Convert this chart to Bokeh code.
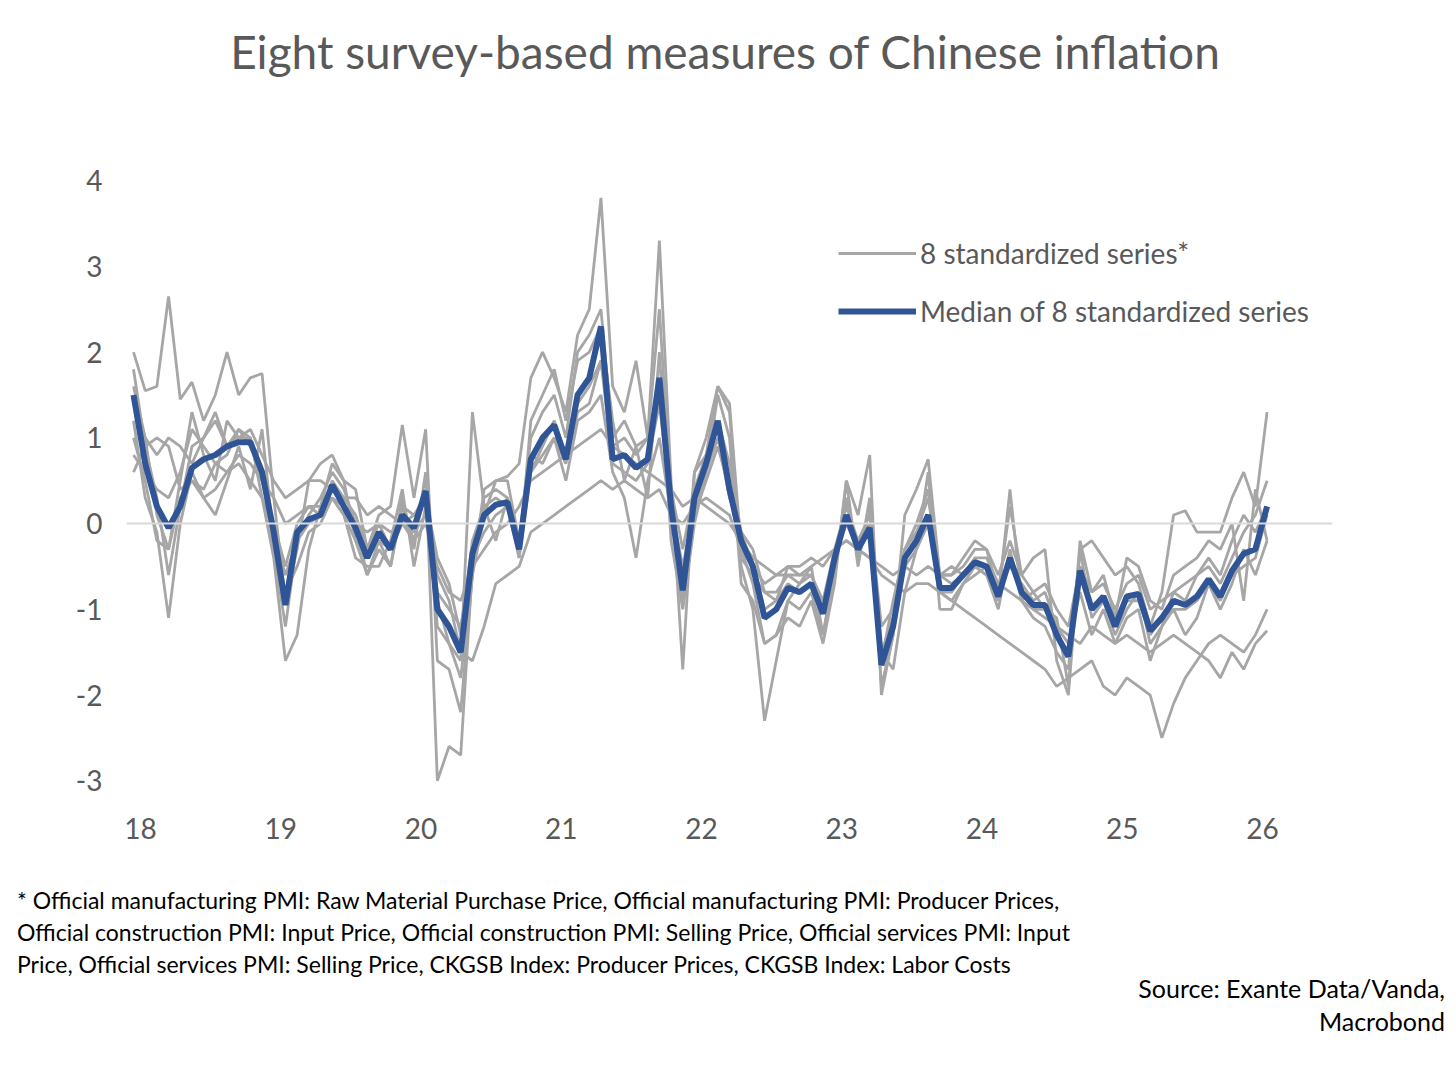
from bokeh.plotting import figure
from bokeh.models import Span, Legend, LegendItem, Div, FixedTicker
from bokeh.layouts import column
from bokeh.embed import file_html
from bokeh.resources import INLINE

median = [1.5,0.7,0.2,-0.05,0.2,0.65,0.75,0.8,0.9,0.95,0.95,0.6,
-0.1,-0.95,-0.1,0.05,0.1,0.45,0.2,-0.05,-0.4,-0.1,-0.3,
0.1,-0.05,0.38,-1.0,-1.2,-1.5,-0.35,0.1,0.22,0.25,-0.3,
0.75,1.0,1.15,0.75,1.5,1.7,2.3,0.75,0.8,0.65,0.75,1.7,
0.2,-0.78,0.3,0.7,1.2,0.4,-0.2,-0.5,-1.1,-1.0,-0.75,-0.8,
-0.7,-1.05,-0.4,0.1,-0.3,-0.05,-1.65,-1.2,-0.4,-0.2,0.1,-0.75,
-0.75,-0.6,-0.45,-0.5,-0.85,-0.4,-0.8,-0.95,-0.95,-1.3,-1.55,-0.55,
-1.0,-0.85,-1.2,-0.85,-0.82,-1.25,-1.1,-0.9,-0.95,-0.85,-0.65,-0.85,
-0.55,-0.35,-0.3,0.2]

s1 = [2.0,1.55,1.6,2.65,1.45,1.65,1.2,1.5,2.0,1.5,1.7,1.75,
0.3,-0.9,-0.3,0.5,0.7,0.8,0.5,0.4,-0.3,0.1,0.2,
1.15,0.3,1.1,-1.6,-1.7,-2.2,-0.6,0.4,0.5,0.55,0.7,
1.7,2.0,1.7,1.3,2.2,2.5,3.8,1.6,1.3,1.9,1.0,3.3,
0.5,-1.7,0.6,0.8,1.6,1.3,-0.5,-1.0,-2.3,-1.6,-0.9,-0.7,
-0.5,-1.3,-0.6,0.5,0.1,0.8,-2.0,-1.3,0.1,0.4,0.75,-0.6,
-0.6,-0.4,-0.2,-0.3,-0.8,0.2,-0.6,-0.4,-0.3,-1.6,-2.0,-0.3,
-0.2,-0.4,-0.6,-0.5,-0.7,-1.2,-0.8,0.1,0.15,-0.1,-0.1,-0.1,
0.3,0.6,0.2,1.3]
s2 = [1.8,0.9,0.3,-0.6,0.2,0.9,1.0,1.3,0.9,1.1,0.9,0.6,
-0.3,-1.2,-0.2,0.1,0.3,0.6,0.4,0.0,-0.6,-0.2,-0.5,
0.2,-0.2,0.4,-1.2,-1.4,-1.8,-0.6,0.1,0.5,0.5,-0.2,
1.0,1.3,1.5,1.0,2.0,2.2,2.5,1.0,1.2,0.9,1.0,2.5,
0.3,-0.9,0.6,1.0,1.6,1.4,-0.3,-0.7,-1.4,-1.3,-0.9,-1.0,
-0.8,-1.3,-0.5,0.3,-0.4,0.2,-1.9,-1.3,-0.3,0.0,0.4,-0.8,
-0.9,-0.7,-0.5,-0.6,-1.0,-0.3,-0.9,-1.1,-1.2,-1.5,-1.7,-0.3,
-1.1,-0.9,-1.3,-1.0,-0.8,-1.4,-1.2,-0.8,-0.9,-0.6,-0.5,-0.7,
-0.4,-0.1,0.1,0.5]
s3 = [0.6,0.9,1.0,0.9,0.4,0.5,0.3,0.4,0.6,0.8,0.7,0.5,
0.3,0.0,0.1,0.2,0.2,0.3,0.2,0.0,-0.1,0.0,-0.1,
0.0,-0.1,0.1,-0.6,-0.9,-1.5,-1.6,-1.2,-0.7,-0.6,-0.5,
-0.1,0.0,0.1,0.2,0.3,0.4,0.5,0.4,0.5,0.4,0.3,0.4,
0.1,0.0,0.2,0.3,0.2,0.1,-0.3,-0.5,-0.7,-0.6,-0.6,-0.6,
-0.5,-0.4,-0.3,-0.2,-0.3,-0.4,-0.6,-0.7,-0.8,-0.7,-0.7,-0.8,
-0.9,-1.0,-1.1,-1.2,-1.3,-1.4,-1.5,-1.6,-1.7,-1.9,-1.8,-1.7,
-1.6,-1.9,-2.0,-1.8,-1.9,-2.0,-2.5,-2.1,-1.8,-1.6,-1.4,-1.3,
-1.4,-1.5,-1.3,-1.0]
s4 = [1.5,1.0,0.8,1.0,0.9,0.7,1.0,1.2,0.9,1.0,1.1,0.8,
0.5,0.3,0.4,0.5,0.5,0.4,0.3,0.3,0.1,0.2,0.1,
0.0,-0.2,0.0,-0.5,-0.8,-0.9,-0.5,-0.3,-0.1,0.0,0.2,
0.5,0.6,0.7,0.8,0.9,1.0,1.1,0.9,0.8,0.7,0.6,0.5,
0.4,0.2,0.3,0.2,0.1,0.0,-0.2,-0.4,-0.5,-0.6,-0.5,-0.5,
-0.4,-0.5,-0.3,-0.2,-0.3,-0.4,-0.5,-0.6,-0.5,-0.6,-0.5,-0.6,
-0.7,-0.6,-0.5,-0.6,-0.7,-0.8,-0.9,-1.0,-1.1,-1.2,-1.3,-1.4,
-1.2,-1.3,-1.4,-1.3,-1.4,-1.5,-1.4,-1.3,-1.4,-1.5,-1.6,-1.8,
-1.5,-1.7,-1.4,-1.25]
s5 = [1.0,0.5,-0.2,-0.3,0.5,1.3,0.8,0.5,1.2,1.0,1.0,0.3,
-0.4,-1.6,-1.3,-0.3,0.2,0.7,0.5,-0.2,-0.6,-0.3,-0.5,
0.3,-0.3,0.6,-3.0,-2.6,-2.7,-0.5,0.3,0.4,0.3,-0.4,
1.2,1.5,1.8,1.2,1.9,2.0,2.3,1.2,0.5,0.9,0.3,2.0,
-0.2,-1.0,0.0,0.6,1.5,1.0,-0.7,-0.9,-1.4,-1.3,-1.1,-1.2,
-0.9,-1.4,-0.7,0.5,-0.5,0.3,-1.5,-1.7,-0.8,-0.3,0.6,-1.0,
-1.0,-0.7,-0.6,-0.5,-0.9,0.4,-0.9,-0.8,-1.0,-1.1,-1.9,-0.2,
-0.8,-0.6,-1.1,-0.4,-0.5,-0.9,-1.0,-0.6,-0.5,-0.4,-0.2,-0.3,
0.0,-0.9,0.4,-0.2]
s6 = [1.2,0.3,-0.1,-1.1,0.0,0.6,0.3,0.1,0.5,0.9,0.4,1.1,
-0.2,-0.8,-0.5,-0.1,0.0,0.3,0.1,-0.4,-0.5,-0.5,-0.2,
0.4,-0.5,0.2,-0.9,-1.4,-1.6,1.3,0.2,-0.2,0.3,-0.3,
0.8,0.7,1.0,0.5,1.2,1.3,1.5,0.6,0.3,-0.4,0.5,1.0,
0.1,-0.6,0.1,0.5,0.9,0.4,-0.4,-0.6,-0.8,-0.9,-0.5,-0.6,
-0.6,-1.0,-0.4,0.0,-0.2,0.0,-1.6,-0.9,-0.3,-0.1,0.0,-0.6,
-0.5,-0.6,-0.4,-0.4,-0.7,-0.5,-0.7,-0.9,-0.8,-1.2,-1.4,-0.8,
-1.3,-1.0,-1.4,-1.1,-1.0,-1.6,-1.2,-1.0,-1.3,-1.1,-0.7,-1.0,
-0.7,-0.3,-0.6,-0.2]
s7 = [0.8,0.6,0.4,0.3,0.6,1.1,0.9,0.7,0.8,1.1,1.0,0.5,
0.0,-0.5,0.0,0.2,0.1,0.5,0.3,0.1,-0.3,0.0,-0.3,
0.0,0.1,0.3,-0.4,-0.7,-1.3,-0.2,0.2,0.3,0.2,-0.3,
0.6,0.9,1.2,0.8,1.4,1.6,1.9,0.9,1.0,0.8,1.0,1.6,
0.4,-0.3,0.4,0.8,1.2,0.7,-0.1,-0.3,-0.8,-0.8,-0.6,-0.7,
-0.6,-0.9,-0.3,0.2,-0.2,0.1,-1.2,-1.0,-0.3,-0.1,0.3,-0.6,
-0.6,-0.5,-0.3,-0.3,-0.6,-0.2,-0.6,-0.8,-0.7,-1.0,-1.2,-0.5,
-0.8,-0.7,-1.0,-0.7,-0.6,-1.0,-0.9,-0.8,-0.7,-0.6,-0.4,-0.6,
-0.2,0.1,-0.1,0.2]
s8 = [1.6,1.0,0.1,-0.3,0.3,0.5,0.4,0.7,0.6,0.7,0.5,0.3,
-0.1,-0.6,-0.2,0.0,0.1,0.3,0.1,-0.2,-0.4,-0.2,-0.3,
0.2,0.1,0.3,-0.8,-1.0,-1.2,-0.4,-0.1,0.1,0.2,-0.4,
0.6,0.8,1.0,0.7,1.3,1.4,1.9,0.7,0.6,0.5,0.7,1.4,
0.2,-0.5,0.2,0.6,1.0,0.3,-0.1,-0.5,-1.0,-0.9,-0.7,-0.8,
-0.7,-1.0,-0.4,0.0,-0.3,-0.1,-1.5,-1.1,-0.5,-0.3,0.0,-0.8,
-0.8,-0.6,-0.5,-0.5,-0.9,-0.4,-0.8,-1.0,-1.0,-1.3,-1.5,-0.6,
-1.0,-0.9,-1.2,-0.9,-0.9,-1.3,-1.1,-1.0,-1.0,-0.9,-0.7,-0.9,
-0.6,-0.5,-0.4,0.1]
series = [s1, s2, s3, s4, s5, s6, s7, s8]

start = 2018 - 0.05
x = [start + i / 12 for i in range(len(median))]
year_ticks = list(range(2018, 2027))
year_labels = {y: str(y - 2000) for y in year_ticks}
y_ticks = [-3, -2, -1, 0, 1, 2, 3, 4]
y_labels = {v: str(v) for v in y_ticks}

FONT = "Lato"
GREY_TXT = "#595959"

title = Div(text=("<div style='font-family:Lato;font-size:46px;line-height:56px;color:#595959;"
                  "text-align:center;width:1440px;padding-top:19px'>"
                  "Eight survey-based measures of Chinese inflation</div>"),
            width=1440, height=110)

p = figure(width=1440, height=731, x_range=(2017.9, 2026.5), y_range=(-3.3, 4.2),
           output_backend="svg", toolbar_location=None,
           min_border_left=126, min_border_right=108, min_border_top=43, min_border_bottom=45)
p.outline_line_color = None
p.xgrid.visible = False
p.ygrid.visible = False
for ax in (p.xaxis, p.yaxis):
    ax.axis_line_color = None
    ax.major_tick_line_color = None
    ax.minor_tick_line_color = None
    ax.major_label_text_font = FONT
    ax.major_label_text_font_size = "28px"
    ax.major_label_text_color = GREY_TXT
p.xaxis.ticker = FixedTicker(ticks=year_ticks)
p.xaxis.major_label_overrides = year_labels
p.yaxis.ticker = FixedTicker(ticks=y_ticks)
p.yaxis.major_label_overrides = y_labels
p.yaxis.major_label_standoff = 18

p.add_layout(Span(location=0, dimension="width", line_color="#d9d9d9", line_width=2))

grey_renderers = []
for s in series:
    grey_renderers.append(p.line(x, s, line_color="#a6a6a6", line_width=2.8))
med = p.line(x, median, line_color="#2f5597", line_width=6)

legend = Legend(items=[LegendItem(label="8 standardized series*", renderers=[grey_renderers[0]]),
                       LegendItem(label="Median of 8 standardized series", renderers=[med])],
                location=(712, 478), background_fill_alpha=0, border_line_color=None,
                label_text_font=FONT, label_text_font_size="28px", label_text_color=GREY_TXT,
                glyph_width=78, label_standoff=4, spacing=24, padding=0)
p.add_layout(legend)

foot = Div(text=("<div style='font-family:Lato;font-size:23px;line-height:32px;color:#000;width:1075px;"
                 "margin-left:12px;margin-top:28px'>"
                 "* Official manufacturing PMI: Raw Material Purchase Price, Official manufacturing PMI: Producer "
                 "Prices, Official construction PMI: Input Price, Official construction PMI: Selling Price, Official services "
                 "PMI: Input Price, Official services PMI: Selling Price, CKGSB Index: Producer Prices, CKGSB Index: Labor "
                 "Costs</div>"
                 "<div style='font-family:Lato;font-size:25px;line-height:33px;color:#000;text-align:right;width:1440px;margin-top:-8px'>"
                 "Source: Exante Data/Vanda,<br>Macrobond</div>"),
           width=1440, height=200)

layout = column(title, p, foot, spacing=0)
open("out.html", "w").write(file_html(layout, INLINE))
